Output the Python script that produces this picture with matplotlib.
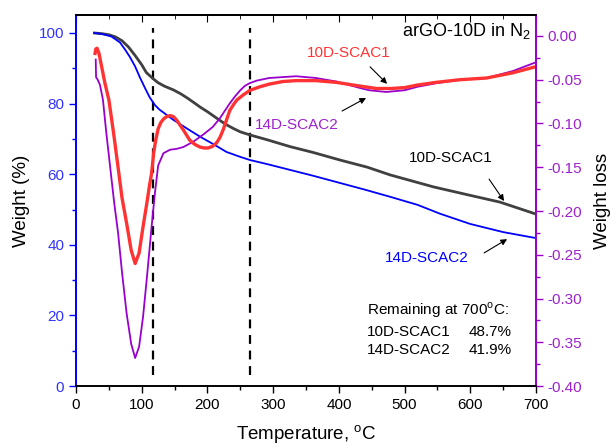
import numpy as np
import matplotlib
matplotlib.use('Agg')
import matplotlib.pyplot as plt
from matplotlib.ticker import MultipleLocator, FormatStrFormatter

plt.rcParams['font.family'] = ['Liberation Sans', 'DejaVu Sans']
plt.rcParams['mathtext.fontset'] = 'custom'
plt.rcParams['mathtext.rm'] = 'Liberation Sans'
plt.rcParams['axes.unicode_minus'] = False

# TG curves (weight %, left axis)
t_10d = [28, 40, 50, 60, 70, 80, 90, 100, 107, 117, 125, 135, 148, 160, 170, 180, 189,
         200, 210, 220, 229, 240, 250, 265, 290, 326, 360, 402, 443, 478, 544, 600, 645, 700]
w_10d = [100, 99.8, 99.5, 98.9, 97.8, 96.0, 93.6, 91.0, 88.8, 87.1, 85.9, 84.9, 83.9,
         82.7, 81.5, 80.2, 79.0, 77.7, 76.4, 75.1, 74.0, 72.9, 72.0, 71.1, 69.8, 67.8,
         66.2, 64.0, 62.0, 59.8, 56.4, 54.0, 52.1, 48.7]

t_14d = [28, 40, 54, 67, 75, 82, 90, 97, 105, 112, 120, 127, 135, 148, 170, 189, 210,
         229, 250, 265, 290, 326, 360, 402, 440, 478, 520, 554, 600, 650, 700]
w_14d = [100, 99.7, 99.0, 97.3, 95.2, 93.2, 90.5, 87.5, 84.4, 81.8, 79.6, 78.3, 77.2,
         75.4, 72.8, 70.6, 68.4, 66.3, 64.9, 64.0, 62.9, 61.2, 59.6, 57.5, 55.6, 53.6,
         51.3, 48.8, 45.9, 43.6, 41.9]

# DTG curves (weight loss, right axis)
t_dtg_10d = [29, 30, 32, 35, 39, 44, 50, 57, 64, 70, 77, 84, 90, 96, 102, 108, 112, 115,
             118, 121, 125, 129, 133, 138, 143, 148, 153, 163, 173, 181, 189, 195, 201,
             208, 214, 219, 224, 229, 234, 240, 245, 255, 265, 280, 294, 315, 335, 365,
             396, 430, 457, 480, 500, 520, 548, 584, 625, 665, 700]
d_10d = [-0.020, -0.015, -0.014, -0.020, -0.035, -0.054, -0.073, -0.110, -0.150, -0.185,
         -0.214, -0.245, -0.260, -0.248, -0.218, -0.190, -0.170, -0.157, -0.135, -0.120,
         -0.106, -0.099, -0.095, -0.092, -0.091, -0.092, -0.096, -0.107, -0.119, -0.124,
         -0.127, -0.128, -0.128, -0.126, -0.122, -0.116, -0.107, -0.096, -0.085, -0.078,
         -0.073, -0.067, -0.062, -0.058, -0.055, -0.052, -0.051, -0.051, -0.053, -0.057,
         -0.060, -0.060, -0.059, -0.056, -0.053, -0.050, -0.048, -0.042, -0.035]

t_dtg_14d = [30, 30.5, 33, 36.5, 41, 46, 52, 58, 64, 70, 77, 84, 90, 96, 102, 108, 115,
             120, 125, 133, 143, 153, 163, 178, 193, 208, 219, 226, 234, 242, 250, 257,
             264, 275, 294, 335, 365, 396, 430, 446, 472, 500, 520, 548, 584, 625, 665, 700]
d_14d = [-0.027, -0.047, -0.050, -0.056, -0.073, -0.110, -0.150, -0.190, -0.225, -0.270,
         -0.317, -0.352, -0.368, -0.355, -0.321, -0.275, -0.218, -0.180, -0.148, -0.134,
         -0.130, -0.129, -0.127, -0.121, -0.113, -0.104, -0.094, -0.086, -0.077, -0.069,
         -0.062, -0.057, -0.054, -0.051, -0.048, -0.046, -0.048, -0.052, -0.059, -0.062,
         -0.064, -0.062, -0.058, -0.054, -0.050, -0.048, -0.040, -0.030]

step_lines = [117, 264]

BLUE = '#0000FF'
BLUE_TXT = '#3333FF'
PURPLE = '#9900CC'
PURPLE_TXT = '#A020D0'
RED = '#FF3333'
GREY = '#404040'

fig = plt.figure(figsize=(6.14, 4.46), dpi=100)
ax = fig.add_axes([0.1238, 0.1345, 0.7492, 0.8319])
ax2 = ax.twinx()

# Gewichtskurven
ax.plot(t_10d, w_10d, color=GREY, lw=2.0, zorder=3)
ax.plot(t_14d, w_14d, color=BLUE, lw=1.3, zorder=3)
for x in step_lines:
    ax.plot([x, x], [3.1, 101.4], color='black', lw=1.6, ls=(0, (4, 3)), zorder=2)

# DTG Kurven
ax2.plot(t_dtg_14d, d_14d, color=PURPLE, lw=1.3)
ax2.plot(t_dtg_10d, d_10d, color=RED, lw=2.4)

ax.set_xlim(0, 700)
ax.set_ylim(0, 105.1)
ax2.set_ylim(-0.40, 0.024)

ax.xaxis.set_major_locator(MultipleLocator(100))
ax.xaxis.set_minor_locator(MultipleLocator(50))
ax.yaxis.set_major_locator(MultipleLocator(20))
ax.yaxis.set_minor_locator(MultipleLocator(10))
ax2.yaxis.set_major_locator(MultipleLocator(0.05))
ax2.yaxis.set_minor_locator(MultipleLocator(0.025))
ax2.yaxis.set_major_formatter(FormatStrFormatter('%.2f'))

ax.tick_params(axis='x', which='major', direction='out', length=5, width=1, labelsize=11)
ax.tick_params(axis='x', which='minor', direction='out', length=3, width=1)
ax.tick_params(axis='y', which='major', direction='out', length=5, width=1,
               colors=BLUE, labelcolor=BLUE_TXT, labelsize=11)
ax.tick_params(axis='y', which='minor', direction='out', length=3, width=1, colors=BLUE)
ax2.tick_params(axis='y', which='major', direction='out', length=5, width=1,
                colors=PURPLE, labelcolor=PURPLE_TXT, labelsize=11)
ax2.tick_params(axis='y', which='minor', direction='out', length=3, width=1, colors=PURPLE)

top = ax.secondary_xaxis('top')
top.xaxis.set_major_locator(MultipleLocator(100))
top.xaxis.set_minor_locator(MultipleLocator(50))
top.tick_params(which='major', direction='in', length=5, labeltop=False)
top.tick_params(which='minor', direction='in', length=3)

for a in (ax, ax2):
    a.spines['left'].set_color(BLUE)
    a.spines['right'].set_color(PURPLE)
    a.spines['left'].set_linewidth(1.3)
    a.spines['right'].set_linewidth(1.3)
    a.spines['bottom'].set_linewidth(1.2)
    a.spines['top'].set_linewidth(1.2)
top.spines['top'].set_linewidth(1.2)

ax.set_xlabel('Temperature, $^{\\mathrm{o}}$C', fontsize=13.5, labelpad=8)
ax.set_ylabel('Weight (%)', fontsize=13.5, labelpad=6)
ax2.set_ylabel('Weight loss', fontsize=13.5, labelpad=8)

# Beschriftungen
ax.text(692, 100.6, 'arGO-10D in N$_{\\mathrm{2}}$', fontsize=13, ha='right', va='center')
ax.text(415, 94.3, '10D-SCAC1', color=RED, fontsize=11, ha='center', va='center')
ax.text(336, 73.9, '14D-SCAC2', color=PURPLE_TXT, fontsize=11, ha='center', va='center')
ax.text(571, 64.6, '10D-SCAC1', color='black', fontsize=11, ha='center', va='center')
ax.text(534, 36.3, '14D-SCAC2', color=BLUE, fontsize=11, ha='center', va='center')

ax.text(443, 21.5, 'Remaining at 700$^{\\mathrm{o}}$C:', fontsize=11, ha='left', va='center')
ax.text(443, 15.3, '10D-SCAC1', fontsize=11, ha='left', va='center')
ax.text(598, 15.3, '48.7%', fontsize=11, ha='left', va='center')
ax.text(443, 10.2, '14D-SCAC2', fontsize=11, ha='left', va='center')
ax.text(598, 10.2, '41.9%', fontsize=11, ha='left', va='center')

arrows = [((447.5, 90.4), (473.4, 85.6)),
          ((404.9, 77.9), (441.4, 81.6)),
          ((628.6, 58.6), (651.4, 52.4)),
          ((621.0, 37.7), (656.0, 41.6))]
for start, end in arrows:
    ax.annotate('', xy=end, xytext=start,
                arrowprops=dict(arrowstyle='-|>', color='black', lw=0.8,
                                mutation_scale=9, shrinkA=0, shrinkB=0))

fig.savefig('out.png', dpi=100)
